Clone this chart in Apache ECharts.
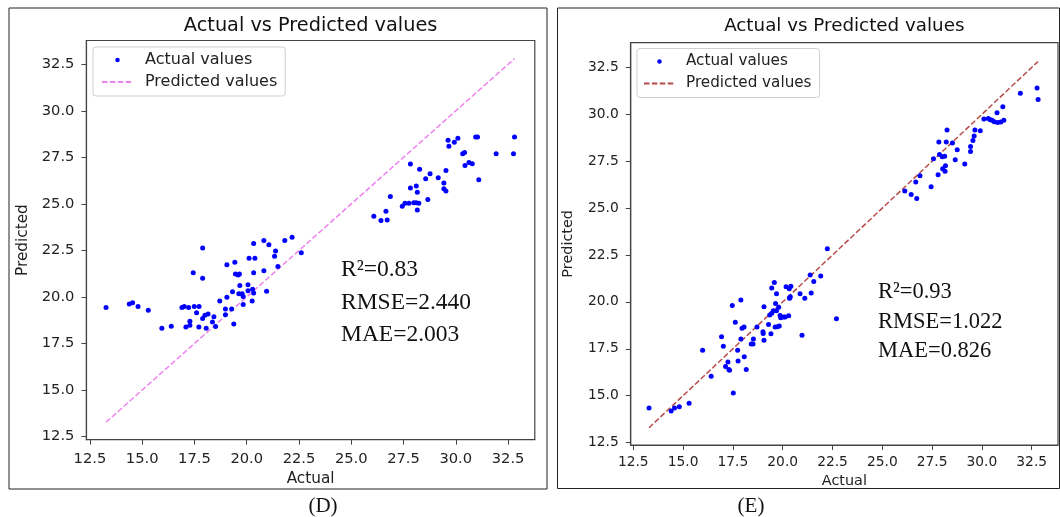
<!DOCTYPE html>
<html><head><meta charset="utf-8">
<script src="https://cdn.jsdelivr.net/npm/echarts@6/dist/echarts.min.js"></script>
<style>html,body{margin:0;padding:0;background:#fff}#c{width:1060px;height:517px}</style>
</head><body><div id="c"></div>
<script>
const tickValues = [12.5, 15, 17.5, 20, 22.5, 25, 27.5, 30, 32.5];

const actualD = [13.27,14.38,14.54,14.80,15.29,15.94,16.39,16.90,17.01,17.22,17.49,17.72,17.60,17.89,17.44,17.89,17.28,17.28,17.09,17.71,17.89,18.00,18.15,18.06,18.43,18.36,18.51,18.71,18.98,18.98,19.28,19.38,19.05,19.32,19.05,19.43,19.46,19.59,19.65,19.67,19.62,19.78,19.83,19.83,20.06,20.06,20.28,20.33,20.26,20.11,20.39,20.33,20.33,20.82,21.06,20.82,20.95,21.38,21.33,21.49,21.82,22.17,22.61,26.08,26.42,26.72,26.66,26.87,27.44,27.57,27.76,27.99,28.10,28.23,28.16,27.83,27.83,28.11,28.16,28.27,28.56,28.77,28.66,29.16,29.43,29.43,29.53,29.53,29.63,29.67,29.93,30.10,30.33,30.42,30.44,30.63,30.79,30.95,31.04,31.10,31.93,32.81,32.76];
const predictedD = [19.44,19.62,19.69,19.49,19.28,18.32,18.43,19.44,19.49,19.44,19.49,19.49,19.15,22.63,21.30,21.00,18.70,18.48,18.38,18.38,18.84,19.02,19.09,18.32,18.93,18.66,18.41,19.78,19.35,19.04,19.35,18.55,19.99,20.28,21.73,21.86,21.23,21.18,21.23,20.62,20.17,20.17,20.03,19.60,20.66,20.33,20.42,20.21,19.78,22.08,22.08,22.87,21.30,23.03,22.81,21.41,20.30,22.47,22.19,21.63,23.03,23.21,22.37,24.34,24.11,24.14,24.61,25.40,24.88,25.04,25.04,25.06,25.06,25.04,24.67,27.15,25.85,25.96,25.62,26.86,26.35,26.62,25.24,26.41,26.12,25.81,25.69,26.80,28.42,28.10,28.31,28.53,27.70,27.76,27.07,27.23,27.16,28.60,28.60,26.30,27.70,28.60,27.70];
const idealD = [13.27, 32.81];

const actualE = [13.29,14.40,14.57,14.81,15.30,15.98,16.41,16.93,17.02,17.13,17.25,17.30,17.33,17.47,17.52,17.62,17.74,17.76,17.90,17.90,17.96,18.06,18.07,18.17,18.42,18.51,18.53,18.71,19.01,19.02,19.06,19.06,19.29,19.41,19.35,19.45,19.53,19.45,19.58,19.64,19.69,19.69,19.62,19.73,19.83,19.80,19.87,19.90,20.05,20.12,20.17,20.30,20.33,20.41,20.38,20.36,20.34,20.87,20.97,21.11,21.38,21.43,21.56,21.91,22.24,22.70,26.13,26.45,26.73,26.68,26.89,27.45,27.57,27.80,27.84,27.87,28.01,28.13,28.03,28.17,28.15,28.25,28.21,28.52,28.66,28.76,29.14,29.43,29.43,29.55,29.61,29.65,29.92,30.10,30.32,30.42,30.51,30.62,30.79,30.95,31.10,30.76,31.05,31.93,32.77,32.82];
const predictedE = [14.34,14.18,14.34,14.41,14.59,17.42,16.03,18.14,17.64,16.56,16.79,16.40,16.35,19.81,15.14,18.92,17.42,16.85,20.10,18.02,18.59,18.66,17.07,16.40,17.75,17.75,18.02,18.66,18.41,18.32,17.96,19.74,18.80,18.30,19.30,19.40,19.53,20.74,21.04,19.92,20.43,19.53,18.66,18.67,18.71,19.72,19.28,19.15,19.19,19.19,20.81,19.26,20.70,20.83,20.27,20.22,20.19,20.43,18.22,20.20,21.43,20.47,21.09,21.38,22.83,19.10,25.91,25.73,25.51,26.39,26.72,26.14,27.63,26.78,28.52,27.86,27.74,27.77,27.10,27.26,26.96,29.17,28.52,28.47,27.58,28.11,27.35,28.02,28.29,28.61,28.84,29.17,29.12,29.75,29.78,29.71,29.68,29.60,29.57,29.59,29.69,30.08,30.40,31.13,31.41,30.79];
const idealE = [13.29, 32.82];

const metricsD = ['R²=0.83', 'RMSE=2.440', 'MAE=2.003'];
const metricsE = ['R²=0.93', 'RMSE=1.022', 'MAE=0.826'];
const panelLabels = ['(D)', '(E)'];
const chartTitle = 'Actual vs Predicted values';
const seriesNames = ['Actual values', 'Predicted values'];

const pair = (xs, ys) => xs.map((x, i) => [x, ys[i]]);
const SANS = 'DejaVu Sans';
const SERIF = 'Liberation Serif';
const INK = '#222';
const SPINE = '#444';

function axis(gi, min, max, fs, margin, name, nameGap) {
  return {
    gridIndex: gi, type: 'value', min: min, max: max,
    axisLine: { show: true, onZero: false, lineStyle: { color: SPINE, width: 1.2 } },
    axisTick: { show: true, length: 5, customValues: tickValues, lineStyle: { color: SPINE, width: 1 } },
    axisLabel: { customValues: tickValues, formatter: v => v.toFixed(1), fontSize: fs, fontFamily: SANS, color: INK, margin: margin },
    splitLine: { show: false },
    name: name, nameLocation: 'middle', nameGap: nameGap,
    nameTextStyle: { fontSize: fs + 0.6, fontFamily: SANS, color: INK }
  };
}

const grids = [
  { left: 86.4, top: 40.5, width: 448.4, height: 399.2, show: true, borderColor: SPINE, borderWidth: 1.2 },
  { left: 630.7, top: 42.7, width: 427.3, height: 402.3, show: true, borderColor: SPINE, borderWidth: 1.2 }
];

function legend(gi, left, top, fs, padL, textPad) {
  return {
    orient: 'vertical', left: left, top: top,
    data: [
      { name: gi + ':' + seriesNames[0] },
      { name: gi + ':' + seriesNames[1], itemStyle: { color: 'rgba(0,0,0,0)', opacity: 0, borderWidth: 0 } }
    ],
    formatter: n => n.replace(/^[DE]:/, ''),
    itemWidth: 31, itemHeight: 4.5, itemGap: 2,
    padding: [3, 8, 4, padL],
    borderColor: '#cfcfcf', borderWidth: 1, borderRadius: 3,
    backgroundColor: 'rgba(255,255,255,0.85)',
    selectedMode: false,
    textStyle: { fontSize: fs, fontFamily: SANS, color: INK, lineHeight: 20, padding: [0, 0, 0, textPad] }
  };
}

function textEl(text, x, y, fs, family, align) {
  return { type: 'text', x: x, y: y, z: 100,
    style: { text: text, fontSize: fs, fontFamily: family, fill: '#111', align: align, verticalAlign: 'middle' } };
}

const graphics = [
  { type: 'rect', shape: { x: 9, y: 8, width: 538, height: 481 }, style: { fill: 'none', stroke: '#222', lineWidth: 1 }, z: 0 },
  { type: 'rect', shape: { x: 557.5, y: 8, width: 502, height: 480.5 }, style: { fill: 'none', stroke: '#222', lineWidth: 1 }, z: 0 },
  textEl(chartTitle, 310.6, 26, 19.3, SANS, 'center'),
  textEl(chartTitle, 844.3, 26, 18.3, SANS, 'center'),
  textEl(metricsD[0], 341, 270, 23.5, SERIF, 'left'),
  textEl(metricsD[1], 341, 303, 23.5, SERIF, 'left'),
  textEl(metricsD[2], 341, 335, 23.5, SERIF, 'left'),
  textEl(metricsE[0], 878, 292, 22.5, SERIF, 'left'),
  textEl(metricsE[1], 878, 322, 22.5, SERIF, 'left'),
  textEl(metricsE[2], 878, 351, 22.5, SERIF, 'left'),
  textEl(panelLabels[0], 323, 506, 21, SERIF, 'center'),
  textEl(panelLabels[1], 751, 506, 21, SERIF, 'center')
];

const option = {
  animation: false,
  backgroundColor: '#fff',
  grid: grids,
  xAxis: [
    axis(0, 12.33, 33.78, 14.7, 12, 'Actual', 30),
    axis(1, 12.37, 33.82, 13.8, 10, 'Actual', 29)
  ],
  yAxis: [
    axis(0, 12.33, 33.78, 14.7, 12, 'Predicted', 56),
    axis(1, 12.37, 33.82, 13.8, 12, 'Predicted', 55)
  ],
  legend: [legend('D', 93, 47, 16, 8, 7), legend('E', 637, 48.5, 15.2, 6, 6)],
  series: [
    { name: 'D:' + seriesNames[0], type: 'scatter', xAxisIndex: 0, yAxisIndex: 0, symbolSize: 5,
      itemStyle: { color: '#0000ff', opacity: 1 }, data: pair(actualD, predictedD), z: 3 },
    { name: 'D:' + seriesNames[1], type: 'line', xAxisIndex: 0, yAxisIndex: 0, symbol: 'none',
      lineStyle: { color: '#ee82ee', width: 1.5, type: [5.5, 2.4] }, itemStyle: { color: '#ee82ee' },
      data: pair(idealD, idealD), z: 2 },
    { name: 'E:' + seriesNames[0], type: 'scatter', xAxisIndex: 1, yAxisIndex: 1, symbolSize: 5,
      itemStyle: { color: '#0000ff', opacity: 1 }, data: pair(actualE, predictedE), z: 3 },
    { name: 'E:' + seriesNames[1], type: 'line', xAxisIndex: 1, yAxisIndex: 1, symbol: 'none',
      lineStyle: { color: '#b84a4a', width: 1.5, type: [5.5, 2.4] }, itemStyle: { color: '#b84a4a' },
      data: pair(idealE, idealE), z: 2 }
  ],
  graphic: graphics
};

const chart = echarts.init(document.getElementById('c'), null, { renderer: 'canvas' });
chart.setOption(option);
</script>
</body></html>
